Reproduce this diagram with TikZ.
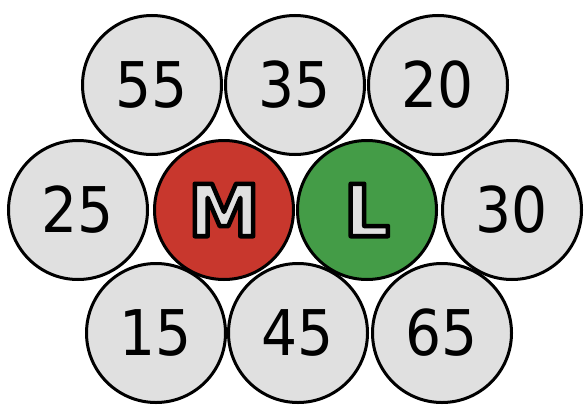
\documentclass[tikz,border=0pt]{standalone}
\usepackage{fontspec}
\setmainfont{DejaVu Sans Condensed}
\newfontfamily\letterfont{DejaVu Sans Bold}
\definecolor{ballgray}{HTML}{E0E0E0}
\definecolor{ballred}{HTML}{C8372D}
\definecolor{ballgreen}{HTML}{449C47}
\tikzset{
  ball/.style={circle, draw=black, line width=3pt, minimum size=139pt, inner sep=0pt, fill=ballgray, font=\fontsize{63}{63}\selectfont},
  redball/.style={ball, fill=ballred},
  greenball/.style={ball, fill=ballgreen},
}
\newcommand{\outl}[1]{{\letterfont\fontsize{72}{72}\selectfont\special{pdf:literal direct 2 Tr 4.5 w 1 j 0 0 0 RG 0.878 0.878 0.878 rg}#1\special{pdf:literal direct 0 Tr 0 g 0 G}}}
\begin{document}
\begin{tikzpicture}[x=1pt,y=-1pt]
\useasboundingbox (0,0) rectangle (585,404);
\node[ball] (n55) at (152,85) {55};
\node[ball] (n35) at (295,85) {35};
\node[ball] (n20) at (438,85) {20};
\node[ball] (n25) at (78,210) {25};
\node[redball] (nM) at (224,210) {\outl{M}};
\node[greenball] (nL) at (367,210) {\outl{L}};
\node[ball] (n30) at (512,210) {30};
\node[ball] (n15) at (156,333) {15};
\node[ball] (n45) at (298,333) {45};
\node[ball] (n65) at (442,333) {65};
\end{tikzpicture}
\end{document}
